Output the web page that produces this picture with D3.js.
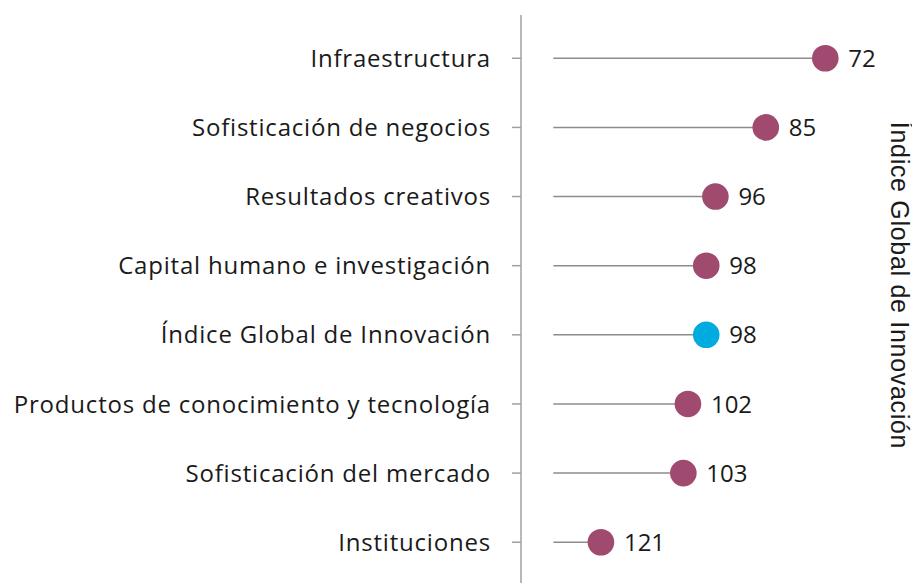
<!DOCTYPE html>
<html>
<head>
<meta charset="utf-8">
<script src="https://cdn.jsdelivr.net/npm/d3@7"></script>
<style>
  body { margin: 0; background: #fff; }
  svg { display: block; }
</style>
</head>
<body>
<div id="chart"></div>
<script>
const width = 912;
const height = 583;

// data, top to bottom
const categories = [
  "Infraestructura",
  "Sofisticación de negocios",
  "Resultados creativos",
  "Capital humano e investigación",
  "Índice Global de Innovación",
  "Productos de conocimiento y tecnología",
  "Sofisticación del mercado",
  "Instituciones"
];
const ranks = [72, 85, 96, 98, 98, 102, 103, 121];
const highlight = "Índice Global de Innovación";
const axisTitle = "Índice Global de Innovación";

const labelFont = "'Open Sans', sans-serif";

const svg = d3.select("#chart")
  .append("svg")
  .attr("width", width)
  .attr("height", height);

// rank scale is reversed: better rank goes further right
const x = d3.scaleLinear()
  .domain([131.4, 72])
  .range([553.3, 825.3]);

const y = d3.scaleBand()
  .domain(categories)
  .range([23.7, 576.8])
  .padding(0);

const yc = d => y(d) + y.bandwidth() / 2;

// vertical axis line
svg.append("line")
  .attr("x1", 521).attr("x2", 521)
  .attr("y1", 15).attr("y2", height)
  .attr("stroke", "#a0a0a0")
  .attr("stroke-width", 1.5);

const yAxis = svg.append("g")
  .attr("transform", "translate(521,0)")
  .call(d3.axisLeft(y).tickSize(9).tickPadding(21));

yAxis.select(".domain").remove();
yAxis.selectAll(".tick line")
  .attr("stroke", "#a0a0a0")
  .attr("stroke-width", 1.5);
yAxis.selectAll(".tick text")
  .attr("fill", "#1a1a1a")
  .style("font-family", labelFont)
  .style("font-size", "24px")
  .style("letter-spacing", "0.8px")
  .attr("dy", "0.36em");

const rows = categories.map((c, i) => ({ cat: c, rank: ranks[i] }));

// stems
svg.append("g")
  .selectAll("line")
  .data(rows)
  .join("line")
  .attr("x1", x.range()[0])
  .attr("x2", d => x(d.rank))
  .attr("y1", d => yc(d.cat))
  .attr("y2", d => yc(d.cat))
  .attr("stroke", "#8c8c8c")
  .attr("stroke-width", 1.5);

// dots
svg.append("g")
  .selectAll("circle")
  .data(rows)
  .join("circle")
  .attr("cx", d => x(d.rank))
  .attr("cy", d => yc(d.cat))
  .attr("r", 13.3)
  .attr("fill", d => d.cat === highlight ? "#00abe0" : "#a04a6f");

// value labels
svg.append("g")
  .selectAll("text")
  .data(rows)
  .join("text")
  .attr("x", d => x(d.rank) + 23)
  .attr("y", d => yc(d.cat))
  .attr("dy", "0.36em")
  .attr("fill", "#1a1a1a")
  .style("font-family", labelFont)
  .style("font-size", "24px")
  .text(d => d.rank);

// axis title on the right, reading top to bottom
svg.append("text")
  .attr("transform", "translate(890.5,285.5) rotate(90)")
  .attr("text-anchor", "middle")
  .attr("fill", "#1a1a1a")
  .style("font-family", "'Liberation Sans', Arial, sans-serif")
  .style("font-size", "25px")
  .style("letter-spacing", "0.7px")
  .text(axisTitle);
</script>
</body>
</html>
